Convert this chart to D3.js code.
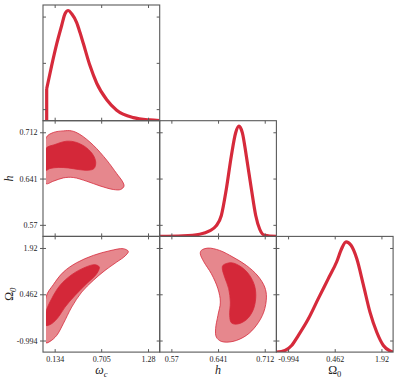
<!DOCTYPE html>
<html><head><meta charset="utf-8">
<script src="https://cdn.jsdelivr.net/npm/d3@7"></script>
<style>
body{margin:0;background:#fff}
svg{display:block}
.lab text{font-family:"Liberation Serif",serif;font-size:8px;fill:#222}
.title{font-family:"Liberation Serif",serif;font-style:italic;font-size:12px;fill:#222}
</style></head><body>
<svg width="398" height="382"></svg>
<script>
// tick values / labels of the three parameters
const wcTicks = [0.134, 0.705, 1.28];
const hTicks = [0.57, 0.641, 0.712];
const OmTicks = [-0.994, 0.462, 1.92];
const wcLabels = ["0.134", "0.705", "1.28"];
const hLabels = ["0.57", "0.641", "0.712"];
const OmLabels = ["-0.994", "0.462", "1.92"];

// 1D marginals (normalised density)
const wcGrid = [0.036, 0.036, 0.097, 0.159, 0.220, 0.261, 0.301, 0.343, 0.404, 0.445, 0.486, 0.567, 0.650, 0.773, 0.895, 1.099, 1.304, 1.42];
const wcDens = [0, 0.29, 0.50, 0.697, 0.864, 0.97, 1.0, 0.97, 0.89, 0.80, 0.70, 0.50, 0.34, 0.19, 0.095, 0.028, 0.007, 0.002];
const hGrid = [0.5523, 0.5875, 0.613, 0.628, 0.638, 0.646, 0.6536, 0.6612, 0.6678, 0.6728, 0.678, 0.684, 0.6917, 0.6983, 0.7044, 0.712, 0.7297];
const hDens = [0, 0.005, 0.02, 0.05, 0.095, 0.19, 0.43, 0.73, 0.94, 1.0, 0.94, 0.73, 0.43, 0.19, 0.065, 0.01, 0];
const OmGrid = [-1.352, -1.092, -0.883, -0.676, -0.364, -0.051, 0.262, 0.524, 0.68, 0.815, 0.971, 1.149, 1.356, 1.565, 1.775, 1.981, 2.19, 2.28];
const OmDens = [0, 0.015, 0.06, 0.15, 0.30, 0.485, 0.667, 0.82, 0.94, 1.0, 0.97, 0.85, 0.61, 0.36, 0.18, 0.06, 0.01, 0];

// 2D credible regions [x, y]
const wcH68 = [[0.0275,0.6871],[0.138,0.6932],[0.282,0.6983],[0.404,0.6963],[0.527,0.6880],[0.608,0.6768],[0.638,0.6656],[0.617,0.6564],[0.547,0.6538],[0.424,0.6549],[0.301,0.6573],[0.179,0.6580],[0.077,0.6564],[0.0275,0.6538]];
const wcH95 = [[0.0275,0.7034],[0.117,0.7116],[0.240,0.7141],[0.343,0.7141],[0.445,0.7086],[0.608,0.6922],[0.773,0.6692],[0.895,0.6487],[0.969,0.6359],[0.985,0.6293],[0.944,0.6242],[0.854,0.6242],[0.690,0.6297],[0.527,0.6369],[0.363,0.6426],[0.240,0.6420],[0.117,0.6369],[0.0275,0.6334]];
const wcOm68 = [[0.0275,-0.099],[0.097,0.323],[0.199,0.741],[0.343,1.078],[0.506,1.308],[0.629,1.393],[0.682,1.318],[0.650,1.110],[0.527,0.795],[0.384,0.427],[0.261,0.058],[0.179,-0.257],[0.097,-0.464],[0.0275,-0.518]];
const wcOm95 = [[0.0275,0.373],[0.117,0.763],[0.240,1.160],[0.404,1.456],[0.608,1.686],[0.813,1.834],[0.976,1.897],[1.038,1.812],[0.997,1.664],[0.895,1.475],[0.752,1.214],[0.608,0.899],[0.466,0.531],[0.343,0.058],[0.240,-0.464],[0.159,-0.833],[0.077,-1.022],[0.0275,-1.063]];
const hOm68 = [[0.6484,1.371],[0.6612,1.456],[0.6765,1.318],[0.6891,1.056],[0.6967,0.719],[0.6983,0.342],[0.6941,-0.046],[0.6841,-0.339],[0.6698,-0.477],[0.6612,-0.433],[0.6587,-0.203],[0.6597,0.216],[0.6572,0.637],[0.6510,1.003],[0.6475,1.267]];
const hOm95 = [[0.6155,1.843],[0.6256,1.916],[0.6434,1.843],[0.6637,1.632],[0.6841,1.371],[0.7018,1.034],[0.7120,0.688],[0.7146,0.373],[0.7105,-0.099],[0.6993,-0.518],[0.6841,-0.833],[0.6637,-1.022],[0.6460,-1.022],[0.6384,-0.886],[0.6373,-0.622],[0.6408,-0.203],[0.6445,0.216],[0.6408,0.637],[0.6308,1.110],[0.6190,1.497],[0.6140,1.739]];
const wcLow = 0.0275;

const red = "#d62a3b", light = "#e6878d", dark = "#d42839", frame = "#5a5a5a";
const W = 116.7, H = 115.7, mLeft = 43, mTop = 5;
const svg = d3.select("svg");

const ticks = [wcTicks, hTicks, OmTicks];
const labels = [wcLabels, hLabels, OmLabels];
const dom = t => { const d = (t[2] - t[0]) / 8; return [t[0] - d, t[2] + d]; };
const xs = ticks.map((t, i) => d3.scaleLinear().domain(dom(t)).range([mLeft + i * W, mLeft + (i + 1) * W]));
const ys = ticks.map((t, i) => d3.scaleLinear().domain(dom(t)).range([mTop + (i + 1) * H, mTop + i * H]));
const ds = [0, 1, 2].map(i => d3.scaleLinear().domain([0, 1.05]).range([mTop + (i + 1) * H, mTop + i * H]));

const defs = svg.append("defs");
for (let r = 0; r < 3; r++) for (let c = 0; c <= r; c++) {
    const x0 = mLeft + c * W, y0 = mTop + r * H;
    const lo = c == 0 && r > 0 ? xs[0](wcLow) : x0;
    defs.append("clipPath").attr("id", `cp${r}${c}`)
        .append("rect").attr("x", lo).attr("y", y0).attr("width", x0 + W - lo).attr("height", H);
}

// 1D curves (a vertical step where the grid repeats, smooth elsewhere)
const marg = [[wcGrid, wcDens], [hGrid, hDens], [OmGrid, OmDens]];
marg.forEach(([g, d], i) => {
    const pts = g.map((v, k) => [xs[i](v), ds[i](d[k])]);
    let s = 0;
    if (g[0] == g[1]) s = 1;
    const smooth = d3.line().curve(d3.curveMonotoneX)(pts.slice(s));
    const step = s ? d3.line()(pts.slice(0, 2)) : "";
    svg.append("path").attr("d", step + smooth).attr("fill", "none").attr("stroke", red)
        .attr("stroke-width", 3.2).attr("stroke-linejoin", "round").attr("clip-path", `url(#cp${i}${i})`);
});

// 2D regions
const regions = [[1, 0, wcH95, wcH68], [2, 0, wcOm95, wcOm68], [2, 1, hOm95, hOm68]];
regions.forEach(([r, c, outer, inner]) => {
    const area = d3.line().x(p => xs[c](p[0])).y(p => ys[r](p[1])).curve(d3.curveCatmullRomClosed.alpha(0.5));
    const g = svg.append("g").attr("clip-path", `url(#cp${r}${c})`);
    g.append("path").attr("d", area(outer)).attr("fill", light).attr("stroke", red).attr("stroke-width", 0.8);
    g.append("path").attr("d", area(inner)).attr("fill", dark).attr("stroke", red).attr("stroke-width", 0.8);
});

// frames and inward ticks
const fr = [0.105, 0.525, 0.945];
for (let r = 0; r < 3; r++) for (let c = 0; c <= r; c++) {
    const x0 = mLeft + c * W, y0 = mTop + r * H;
    const yS = r == c ? ds[r] : ys[r];
    const yT = r == c ? fr : ticks[r];
    const axes = [
        [d3.axisBottom(xs[c]).tickValues(ticks[c]), 0, y0 + H],
        [d3.axisTop(xs[c]).tickValues(ticks[c]), 0, y0],
        [d3.axisLeft(yS).tickValues(yT), x0, 0],
        [d3.axisRight(yS).tickValues(yT), x0 + W, 0]
    ];
    axes.forEach(([a, tx, ty]) => {
        const g = svg.append("g").attr("transform", `translate(${tx},${ty})`)
            .call(a.tickSize(-3).tickFormat(""));
        g.select(".domain").remove();
        g.selectAll("line").attr("stroke", frame);
    });
    svg.append("rect").attr("x", x0).attr("y", y0).attr("width", W).attr("height", H)
        .attr("fill", "none").attr("stroke", frame).attr("stroke-width", 1.1);
}

// labelled axes
[0, 1, 2].forEach(c => {
    const g = svg.append("g").attr("class", "lab").attr("transform", `translate(0,${mTop + 3 * H})`)
        .call(d3.axisBottom(xs[c]).tickValues(ticks[c]).tickFormat((d, k) => labels[c][k]).tickSize(0).tickPadding(4.5));
    g.select(".domain").remove();
});
[1, 2].forEach(r => {
    const g = svg.append("g").attr("class", "lab").attr("transform", `translate(${mLeft},0)`)
        .call(d3.axisLeft(ys[r]).tickValues(ticks[r]).tickFormat((d, k) => labels[r][k]).tickSize(3).tickPadding(2.5));
    g.select(".domain").remove();
    g.selectAll("line").attr("stroke", frame);
});

// axis titles
const titles = [["ω", "c"], ["h", ""], ["Ω", "0"]];
titles.forEach(([m, s], i) => {
    const t = svg.append("text").attr("class", "title").attr("text-anchor", "middle")
        .attr("x", mLeft + (i + 0.5) * W).attr("y", 374);
    t.append("tspan").text(m).attr("font-style", m == "Ω" ? "normal" : "italic");
    if (s) t.append("tspan").text(s).attr("font-size", "8.5px").attr("dy", 3)
        .attr("font-style", s == "c" ? "italic" : "normal");
});
[1, 2].forEach(r => {
    const [m, s] = titles[r];
    const t = svg.append("text").attr("class", "title").attr("text-anchor", "middle")
        .attr("transform", `translate(13,${mTop + (r + 0.5) * H}) rotate(-90)`);
    t.append("tspan").text(m).attr("font-style", m == "Ω" ? "normal" : "italic");
    if (s) t.append("tspan").text(s).attr("font-size", "8.5px").attr("dy", 3);
});
</script>
</body></html>
